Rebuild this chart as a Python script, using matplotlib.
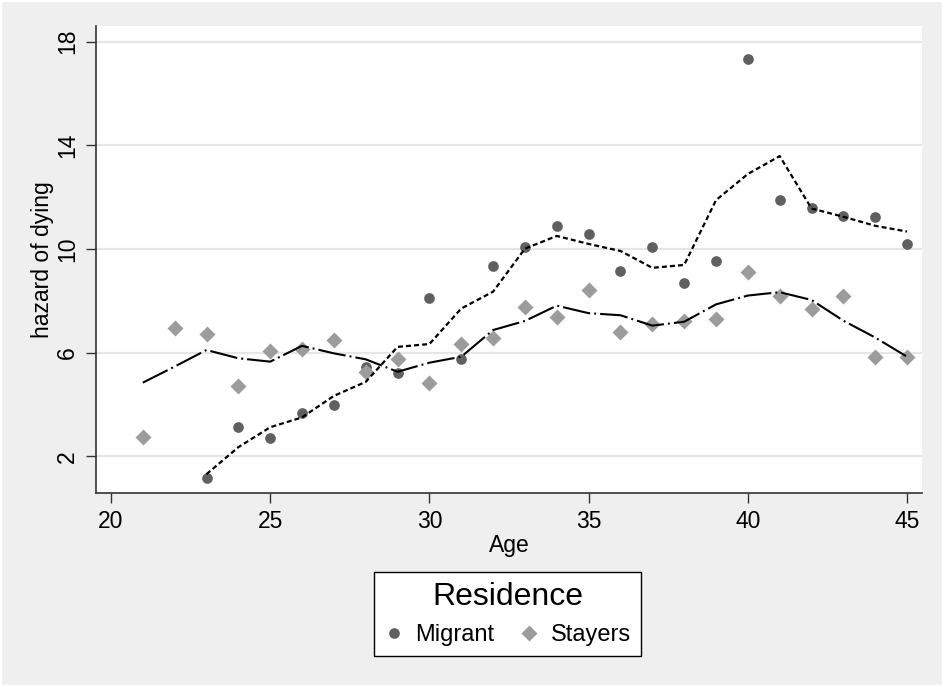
import matplotlib
matplotlib.use("Agg")
import matplotlib.pyplot as plt
from matplotlib.lines import Line2D
from matplotlib.patches import Rectangle

plt.rcParams['font.family'] = ['Liberation Sans', 'DejaVu Sans']
plt.rcParams['lines.scale_dashes'] = False

# --- data ---
mig_age = list(range(23, 46))
mig_haz = [1.17, 3.12, 2.72, 3.68, 3.97, 5.46, 5.23, 8.10, 5.75, 9.35, 10.08,
           10.88, 10.59, 9.15, 10.08, 8.70, 9.52, 17.32, 11.90, 11.56, 11.25, 11.22, 10.19]
mig_smooth = [1.31, 2.35, 3.12, 3.50, 4.33, 4.87, 6.22, 6.33, 7.70, 8.35, 10.01,
              10.50, 10.19, 9.92, 9.27, 9.38, 11.88, 12.89, 13.58, 11.56, 11.24, 10.89, 10.67]

stay_age = list(range(21, 46))
stay_haz = [2.76, 6.94, 6.72, 4.72, 6.06, 6.14, 6.50, 5.26, 5.74, 4.82, 6.32, 6.55, 7.77,
            7.36, 8.42, 6.78, 7.10, 7.21, 7.30, 9.10, 8.19, 7.70, 8.20, 5.82, 5.84]
stay_smooth = [4.84, 5.46, 6.10, 5.78, 5.65, 6.26, 5.97, 5.74, 5.26, 5.61, 5.84, 6.87, 7.22,
               7.81, 7.52, 7.44, 7.04, 7.19, 7.86, 8.20, 8.33, 8.03, 7.23, 6.58, 5.84]

xticks = [20, 25, 30, 35, 40, 45]
yticks = [2, 6, 10, 14, 18]

bg = "#efefef"
mig_col = "#606060"
stay_col = "#9c9c9c"

fig = plt.figure(figsize=(9.44, 6.87), dpi=100, facecolor=bg)
fig.patches.append(Rectangle((0, 0), 1, 1, transform=fig.transFigure,
                             fill=False, edgecolor="white", lw=3, zorder=0))
ax = fig.add_axes([0.1017, 0.2819, 0.8747, 0.6803])
ax.set_facecolor("white")

ax.plot(mig_age, mig_haz, 'o', color=mig_col, ms=7.7, mec='none', zorder=3)
ax.plot(stay_age, stay_haz, 'D', color=stay_col, ms=8.6, mec='none', zorder=3)
ax.plot(mig_age, mig_smooth, color="black", lw=1.6, dashes=(3.6, 2.2), zorder=4)
ax.plot(stay_age, stay_smooth, color="black", lw=1.5, dashes=(20, 2.9, 1.4, 2.9), zorder=4)

ax.set_xlim(19.53, 45.46)
ax.set_ylim(0.57, 18.6)
ax.set_xticks(xticks)
ax.set_yticks(yticks)
ax.grid(axis='y', color="#e6e6e6", lw=1.6)
ax.set_axisbelow(True)

for s in ["top", "right"]:
    ax.spines[s].set_visible(False)
for s in ["left", "bottom"]:
    ax.spines[s].set_color("#333333")
    ax.spines[s].set_linewidth(1.2)

ax.tick_params(axis='both', length=7.2, width=1.0, color="#333333", labelsize=16.5, pad=5)
for lab in ax.get_yticklabels():
    lab.set_rotation(90)
    lab.set_va("center")

ax.set_xlabel("Age", fontsize=16.5)
ax.set_ylabel("hazard of dying", fontsize=16.5)
ax.xaxis.set_label_coords(0.5, -0.088)
ax.yaxis.set_label_coords(-0.051, 0.5)

handles = [
    Line2D([], [], ls='none', marker='o', color=mig_col, ms=7.7, mec='none'),
    Line2D([], [], ls='none', marker='D', color=stay_col, ms=8.6, mec='none'),
]
leg = ax.legend(handles, ["Migrant", "Stayers"], ncol=2, title="Residence",
                loc="center", bbox_to_anchor=(507.5 / 944, 1 - 614 / 687),
                bbox_transform=fig.transFigure, fontsize=17, title_fontsize=23,
                frameon=True, fancybox=False, framealpha=1, edgecolor="black",
                handlelength=0.8, handletextpad=0.5, columnspacing=1.1,
                borderpad=0.42, labelspacing=0.55)
leg.get_frame().set_linewidth(1.0)

fig.savefig("out.png", dpi=100, facecolor=bg)
